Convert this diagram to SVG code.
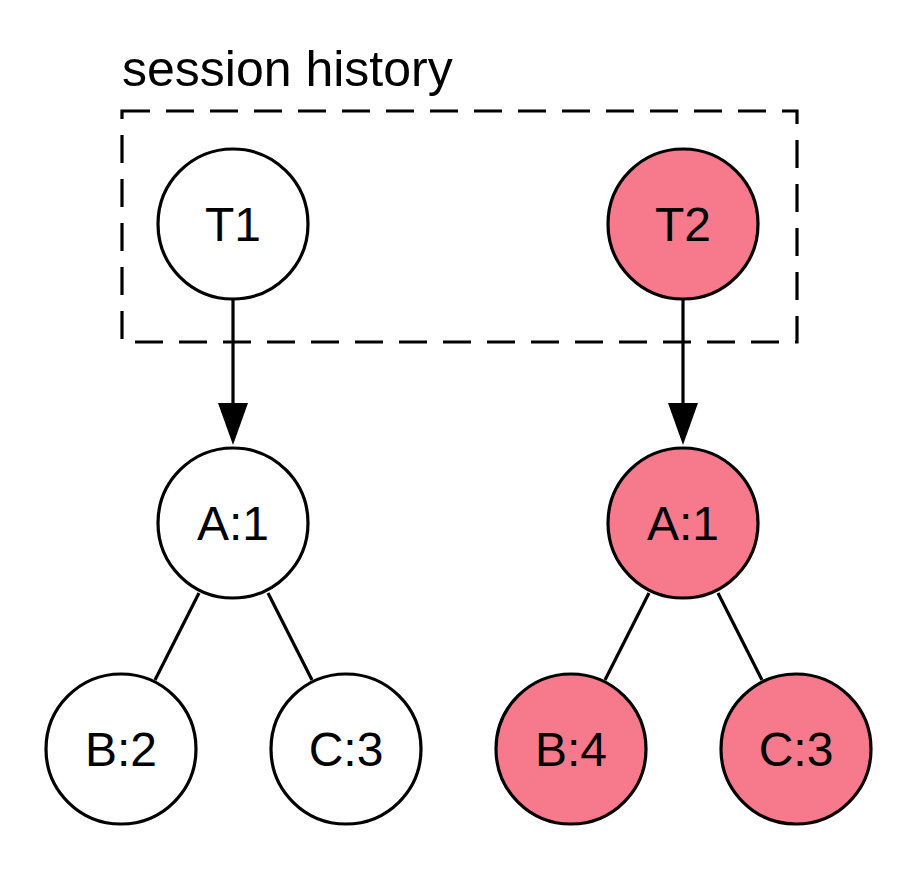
<svg xmlns="http://www.w3.org/2000/svg" width="916" height="870" viewBox="0 0 916 870">
<style>
.n{stroke:#000;stroke-width:3.2}
.w{fill:#fff}
.p{fill:#F67A8C}
text{font-family:"Liberation Sans",Arial,sans-serif;font-size:48px;fill:#000}
.c{text-anchor:middle}
.e{stroke:#000;stroke-width:3.2;fill:none}
</style>
<rect x="0" y="0" width="916" height="870" fill="#fff"/>
<g id="session-history">
<rect x="122" y="111" width="675" height="231" fill="none" stroke="#000" stroke-width="3.2" stroke-dasharray="28,16"/>
<text x="122" y="86" style="font-size:50px">session history</text>
</g>
<g id="connectors">
<line class="e" x1="233" y1="299" x2="233" y2="403"/>
<path d="M218,403 L248,403 L233,445 Z" fill="#000"/>
<line class="e" x1="683" y1="299" x2="683" y2="403"/>
<path d="M668,403 L698,403 L683,445 Z" fill="#000"/>
<line class="e" x1="199" y1="593" x2="155" y2="680"/>
<line class="e" x1="268" y1="593" x2="312" y2="680"/>
<line class="e" x1="649" y1="593" x2="605" y2="680"/>
<line class="e" x1="718" y1="593" x2="762" y2="680"/>
</g>
<g id="T1"><circle class="n w" cx="233" cy="224" r="75"/><text class="c" x="233" y="241">T1</text></g>
<g id="T2"><circle class="n p" cx="683" cy="224" r="75"/><text class="c" x="683" y="241">T2</text></g>
<g id="A1-left"><circle class="n w" cx="233" cy="523" r="75"/><text class="c" x="233" y="540">A:1</text></g>
<g id="B2"><circle class="n w" cx="121" cy="749" r="75"/><text class="c" x="121" y="766">B:2</text></g>
<g id="C3-left"><circle class="n w" cx="346" cy="749" r="75"/><text class="c" x="346" y="766">C:3</text></g>
<g id="A1-right"><circle class="n p" cx="683" cy="523" r="75"/><text class="c" x="683" y="540">A:1</text></g>
<g id="B4"><circle class="n p" cx="571" cy="749" r="75"/><text class="c" x="571" y="766">B:4</text></g>
<g id="C3-right"><circle class="n p" cx="796" cy="749" r="75"/><text class="c" x="796" y="766">C:3</text></g>
</svg>
